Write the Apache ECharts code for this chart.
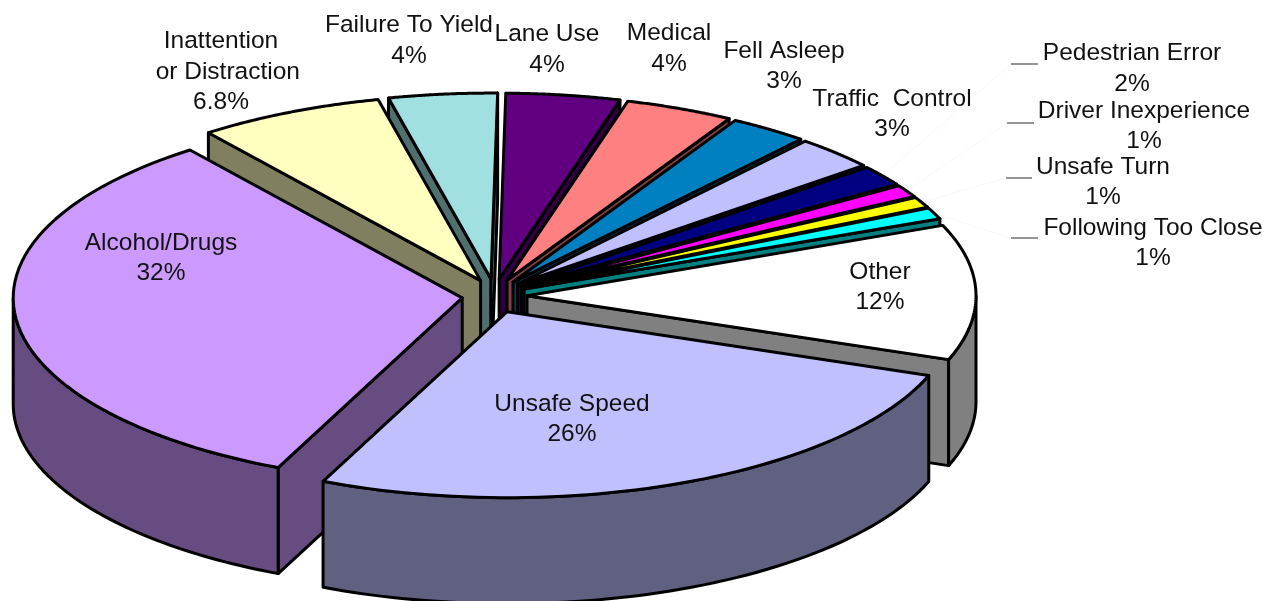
<html>
<head>
    <meta charset="utf-8">
    <style>html,body{margin:0;padding:0;background:#fff}</style>
</head>
<body>
<script src="https://cdn.jsdelivr.net/npm/echarts@6/dist/echarts.min.js"></script>
<div id="main" style="width:1268px;height:601px"></div>
<script>
// slice order runs clockwise from the Alcohol/Drugs slice
var categories = ['Alcohol/Drugs', 'Inattention\n  or Distraction', 'Failure To Yield', 'Lane Use', 'Medical', 'Fell Asleep',
    'Traffic  Control', 'Pedestrian Error', 'Driver Inexperience', 'Unsafe Turn', 'Following Too Close', 'Other', 'Unsafe Speed'];
// printed on the chart
var percentLabels = ['32%', '6.8%', '4%', '4%', '4%', '3%', '3%', '2%', '1%', '1%', '1%', '12%', '26%'];
var sliceShares = [32.9, 6.7, 3.9, 4.1, 3.9, 2.83, 2.94, 1.8, 1.08, 0.94, 1.0, 11.75, 26.13];

var topColors = ['#cc99ff', '#ffffc0', '#a0e0e0', '#600080', '#ff8080', '#0080c0', '#c0c0ff', '#000080', '#ff00ff', '#ffff00', '#00ffff', '#ffffff', '#c0c0ff'];
var wallColors = ['#664c80', '#808060', '#507070', '#300040', '#804040', '#004060', '#606080', '#000040', '#800080', '#808000', '#008080', '#808080', '#606080'];

// label block centres, placed by hand like the original
var labelX = [161, 221, 409, 547, 669, 784, 892, 1132, 1144, 1103, 1153, 880, 572];
var labelY = [258, 72, 40.5, 49.5, 48.5, 66, 114, 68.5, 126, 182, 243, 287, 419];
// short leader dashes of the four outside labels: slice index -> x1, x2, y
var leaders = { 7: [1011, 1038, 64], 8: [1007, 1034, 123], 9: [1006, 1032, 178], 10: [1011, 1038, 238] };

var cx = 494.5, cy = 296, rx = 449, ry = 186, depth = 106;
var explodeX = 32.5, explodeY = 17;
var startAngle = 114.2;

var total = sliceShares.reduce(function (a, b) { return a + b; }, 0);
var spans = [];
var acc = startAngle;
sliceShares.forEach(function (v) {
    var next = acc + v / total * 360;
    spans.push([acc, next]);
    acc = next;
});

function rad(d) { return d * Math.PI / 180; }

// back slices get painted first
var paintRank = spans.map(function (s, i) {
    return { i: i, s: Math.sin(rad((s[0] + s[1]) / 2)) };
}).sort(function (a, b) { return a.s - b.s; });
var rankOf = {};
paintRank.forEach(function (r, n) { rankOf[r.i] = n; });

function renderSlice(params, api) {
    var i = params.dataIndex;
    var a0 = spans[i][0], a1 = spans[i][1];
    var mid = rad((a0 + a1) / 2);
    var ax = cx + explodeX * Math.cos(mid);
    var ay = cy + explodeY * Math.sin(mid);
    var pt = function (d, dy) {
        return [ax + rx * Math.cos(rad(d)), ay + ry * Math.sin(rad(d)) + (dy || 0)];
    };
    var base = rankOf[i] * 10 + 1;
    var lineStyle = function (fill) {
        return { fill: fill, stroke: '#000', lineWidth: 3, lineJoin: 'round' };
    };
    var children = [];

    // radial cut faces, skipping the ones turned away from the viewer
    var cuts = [];
    if (Math.cos(rad(a0)) < 0) { cuts.push(a0); }
    if (Math.cos(rad(a1)) > 0) { cuts.push(a1); }
    cuts.forEach(function (d, n) {
        var e = pt(d);
        children.push({
            type: 'polygon', z2: base + n,
            shape: { points: [[ax, ay], e, [e[0], e[1] + depth], [ax, ay + depth]] },
            style: lineStyle(wallColors[i])
        });
    });

    // outer wall, only where it faces the viewer
    [[0, 180], [360, 540]].forEach(function (win) {
        var from = Math.max(a0, win[0]), to = Math.min(a1, win[1]);
        if (to <= from) { return; }
        var upper = [], lower = [];
        for (var k = 0; k <= 60; k++) {
            var d = from + (to - from) * k / 60;
            upper.push(pt(d));
            lower.unshift(pt(d, depth));
        }
        children.push({
            type: 'polygon', z2: base + 3,
            shape: { points: upper.concat(lower) },
            style: lineStyle(wallColors[i])
        });
    });

    // top face
    var face = [[ax, ay]];
    for (var k = 0; k <= 60; k++) {
        face.push(pt(a0 + (a1 - a0) * k / 60));
    }
    children.push({
        type: 'polygon', z2: base + 5,
        shape: { points: face },
        style: lineStyle(topColors[i])
    });

    // label
    children.push({
        type: 'text', z2: 500, x: labelX[i], y: labelY[i],
        style: {
            text: categories[i] + '\n' + percentLabels[i],
            fill: '#111', font: '24.5px "Liberation Sans", Arial, sans-serif',
            lineHeight: 30.5, align: 'center', verticalAlign: 'middle'
        }
    });

    var lead = leaders[i];
    if (lead) {
        var outer = pt((a0 + a1) / 2);
        children.push({
            type: 'line', z2: 400,
            shape: { x1: lead[0], y1: lead[2], x2: lead[1], y2: lead[2] },
            style: { stroke: '#707070', lineWidth: 1.5 }
        });
        children.push({
            type: 'line', z2: 0,
            shape: { x1: lead[0], y1: lead[2], x2: outer[0], y2: outer[1] },
            style: { stroke: '#f8f8f8', lineWidth: 1 }
        });
    }
    return { type: 'group', children: children };
}

var myChart = echarts.init(document.getElementById('main'));
myChart.setOption({
    backgroundColor: '#fff',
    animation: false,
    series: [{
        type: 'custom',
        coordinateSystem: 'none',
        silent: true,
        data: sliceShares,
        renderItem: renderSlice
    }]
});
</script>
</body>
</html>
